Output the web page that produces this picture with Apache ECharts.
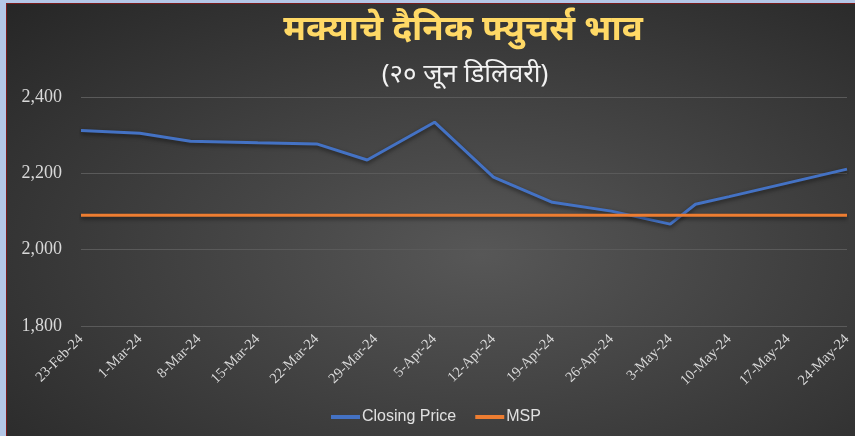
<!DOCTYPE html>
<html>
<head>
<meta charset="utf-8">
<script src="https://cdn.jsdelivr.net/npm/echarts@6/dist/echarts.min.js"></script>
<style>
  html, body {
    margin: 0;
    padding: 0;
    width: 855px;
    height: 436px;
    overflow: hidden;
    background: #b4c7e7;
  }
  #chart {
    position: absolute;
    left: 6px;
    top: 3px;
    width: 849px;
    height: 433px;
    border-left: 1px solid #7a1c1c;
    border-top: 1px solid #7a1c1c;
    box-sizing: border-box;
    background: radial-gradient(ellipse farthest-corner at 56% 58%, #575757 0%, #414141 45%, #262626 100%);
  }
</style>
</head>
<body>
<div id="chart"></div>
<script>
// weekly tick labels on the date axis
const tickLabels = ["23-Feb-24", "1-Mar-24", "8-Mar-24", "15-Mar-24", "22-Mar-24", "29-Mar-24", "5-Apr-24",
  "12-Apr-24", "19-Apr-24", "26-Apr-24", "3-May-24", "10-May-24", "17-May-24", "24-May-24"];
const tickDates = ["2024-02-23", "2024-03-01", "2024-03-08", "2024-03-15", "2024-03-22", "2024-03-29", "2024-04-05",
  "2024-04-12", "2024-04-19", "2024-04-26", "2024-05-03", "2024-05-10", "2024-05-17", "2024-05-24"];

// closing price (trading dates)
const priceDates = ["2024-02-23", "2024-03-01", "2024-03-07", "2024-03-15", "2024-03-22", "2024-03-28", "2024-04-05",
  "2024-04-12", "2024-04-19", "2024-04-26", "2024-05-03", "2024-05-06", "2024-05-10", "2024-05-17", "2024-05-24"];
const closingPrice = [2312, 2305, 2284, 2280, 2277, 2235, 2334, 2190, 2124, 2101, 2067, 2119, 2139, 2175, 2211];

// minimum support price
const msp = [2090, 2090, 2090, 2090, 2090, 2090, 2090, 2090, 2090, 2090, 2090, 2090, 2090, 2090];

const yTicks = { min: 1800, max: 2400, step: 200 };

const DAY = 86400000;
const start = Date.parse(tickDates[0]);
const dayOf = d => Math.round((Date.parse(d) - start) / DAY);

const lineShadow = { shadowColor: "rgba(0,0,0,0.55)", shadowBlur: 4, shadowOffsetY: 2 };

let myChart = echarts.init(document.getElementById("chart"));
let option = {
  backgroundColor: "transparent",
  animation: false,
  title: [
    {
      text: "मक्याचे दैनिक फ्युचर्स भाव",
      left: 451,
      top: 4,
      textAlign: "center",
      textStyle: {
        color: "#ffd966",
        fontSize: 35,
        fontWeight: "bold",
        fontFamily: "Noto Sans, sans-serif"
      }
    },
    {
      text: "(२० जून डिलिवरी)",
      left: 453,
      top: 53,
      textAlign: "center",
      textStyle: {
        color: "#f2f2f2",
        fontSize: 26,
        fontWeight: "normal",
        fontFamily: "Noto Sans, sans-serif"
      }
    }
  ],
  grid: {
    left: 74,
    right: 8,
    top: 93,
    bottom: 110,
    containLabel: false
  },
  legend: {
    bottom: 6,
    left: 319,
    itemWidth: 29,
    itemHeight: 4,
    itemGap: 19,
    icon: "rect",
    textStyle: {
      color: "#e0e0e0",
      fontSize: 16,
      fontFamily: "Liberation Sans, Arial, sans-serif",
      padding: [0, 0, 0, -3]
    },
    data: ["Closing Price", "MSP"]
  },
  xAxis: {
    type: "value",
    min: 0,
    max: dayOf(tickDates[tickDates.length - 1]),
    interval: 7,
    axisLine: { show: false },
    axisTick: { show: false },
    splitLine: { show: false },
    axisLabel: {
      rotate: 45,
      margin: 11,
      color: "#d9d9d9",
      fontSize: 14.5,
      fontFamily: "Liberation Serif, Times New Roman, serif",
      formatter: v => tickLabels[Math.round(v / 7)] || ""
    }
  },
  yAxis: {
    type: "value",
    min: yTicks.min,
    max: yTicks.max,
    interval: yTicks.step,
    axisLine: { show: false },
    axisTick: { show: false },
    splitLine: {
      show: true,
      lineStyle: { color: "#5a5a5a", width: 1 }
    },
    axisLabel: {
      margin: 19,
      color: "#d9d9d9",
      fontSize: 18,
      fontFamily: "Liberation Serif, Times New Roman, serif",
      formatter: v => v.toLocaleString("en-US")
    }
  },
  series: [
    {
      name: "Closing Price",
      type: "line",
      showSymbol: false,
      symbol: "none",
      itemStyle: { color: "#4472c4" },
      lineStyle: Object.assign({ color: "#4472c4", width: 3 }, lineShadow),
      data: priceDates.map((d, i) => [dayOf(d), closingPrice[i]])
    },
    {
      name: "MSP",
      type: "line",
      showSymbol: false,
      symbol: "none",
      itemStyle: { color: "#ed7d31" },
      lineStyle: Object.assign({ color: "#ed7d31", width: 3 }, lineShadow),
      data: tickDates.map((d, i) => [dayOf(d), msp[i]])
    }
  ]
};
myChart.setOption(option);
</script>
</body>
</html>
